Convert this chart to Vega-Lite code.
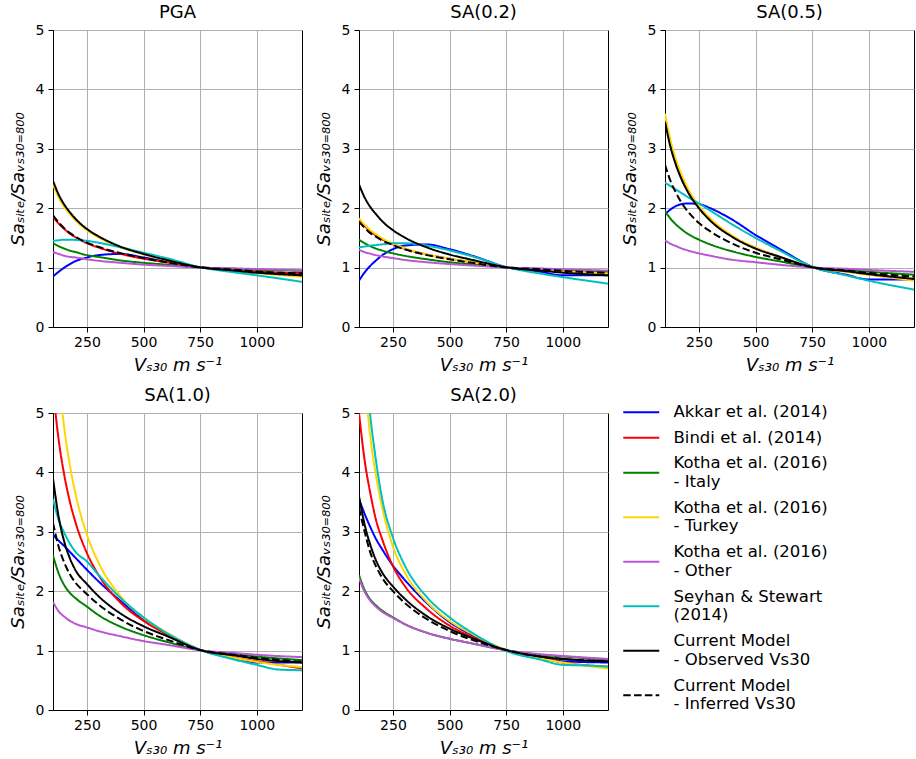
{
"$schema": "https://vega.github.io/schema/vega-lite/v6.json",
"padding": {"left": 8, "top": 3, "right": 0, "bottom": 5},
"datasets": {"gmpe": [
{"p":"PGA","m":"Akkar","v":100,"r":0.85},{"p":"PGA","m":"Akkar","v":125,"r":0.93},{"p":"PGA","m":"Akkar","v":150,"r":1.0},{"p":"PGA","m":"Akkar","v":175,"r":1.06},{"p":"PGA","m":"Akkar","v":200,"r":1.11},{"p":"PGA","m":"Akkar","v":250,"r":1.17},{"p":"PGA","m":"Akkar","v":300,"r":1.21},{"p":"PGA","m":"Akkar","v":400,"r":1.23},{"p":"PGA","m":"Akkar","v":500,"r":1.17},{"p":"PGA","m":"Akkar","v":600,"r":1.10},{"p":"PGA","m":"Akkar","v":760,"r":1.0},{"p":"PGA","m":"Akkar","v":900,"r":0.95},{"p":"PGA","m":"Akkar","v":1000,"r":0.91},{"p":"PGA","m":"Akkar","v":1200,"r":0.91},
{"p":"PGA","m":"Bindi","v":100,"r":1.86},{"p":"PGA","m":"Bindi","v":125,"r":1.74},{"p":"PGA","m":"Bindi","v":150,"r":1.65},{"p":"PGA","m":"Bindi","v":175,"r":1.57},{"p":"PGA","m":"Bindi","v":200,"r":1.51},{"p":"PGA","m":"Bindi","v":250,"r":1.41},{"p":"PGA","m":"Bindi","v":300,"r":1.34},{"p":"PGA","m":"Bindi","v":400,"r":1.23},{"p":"PGA","m":"Bindi","v":500,"r":1.15},{"p":"PGA","m":"Bindi","v":600,"r":1.09},{"p":"PGA","m":"Bindi","v":760,"r":1.0},{"p":"PGA","m":"Bindi","v":900,"r":0.965},{"p":"PGA","m":"Bindi","v":1000,"r":0.935},{"p":"PGA","m":"Bindi","v":1200,"r":0.90},
{"p":"PGA","m":"KothaIT","v":100,"r":1.41},{"p":"PGA","m":"KothaIT","v":125,"r":1.36},{"p":"PGA","m":"KothaIT","v":150,"r":1.32},{"p":"PGA","m":"KothaIT","v":175,"r":1.285},{"p":"PGA","m":"KothaIT","v":200,"r":1.26},{"p":"PGA","m":"KothaIT","v":250,"r":1.21},{"p":"PGA","m":"KothaIT","v":300,"r":1.18},{"p":"PGA","m":"KothaIT","v":400,"r":1.12},{"p":"PGA","m":"KothaIT","v":500,"r":1.08},{"p":"PGA","m":"KothaIT","v":600,"r":1.05},{"p":"PGA","m":"KothaIT","v":760,"r":1.0},{"p":"PGA","m":"KothaIT","v":900,"r":0.98},{"p":"PGA","m":"KothaIT","v":1000,"r":0.965},{"p":"PGA","m":"KothaIT","v":1200,"r":0.945},
{"p":"PGA","m":"KothaTR","v":100,"r":2.40},{"p":"PGA","m":"KothaTR","v":125,"r":2.18},{"p":"PGA","m":"KothaTR","v":150,"r":2.02},{"p":"PGA","m":"KothaTR","v":175,"r":1.90},{"p":"PGA","m":"KothaTR","v":200,"r":1.79},{"p":"PGA","m":"KothaTR","v":250,"r":1.63},{"p":"PGA","m":"KothaTR","v":300,"r":1.51},{"p":"PGA","m":"KothaTR","v":400,"r":1.34},{"p":"PGA","m":"KothaTR","v":500,"r":1.22},{"p":"PGA","m":"KothaTR","v":600,"r":1.13},{"p":"PGA","m":"KothaTR","v":760,"r":1.0},{"p":"PGA","m":"KothaTR","v":900,"r":0.95},{"p":"PGA","m":"KothaTR","v":1000,"r":0.91},{"p":"PGA","m":"KothaTR","v":1200,"r":0.845},
{"p":"PGA","m":"KothaOT","v":100,"r":1.26},{"p":"PGA","m":"KothaOT","v":125,"r":1.23},{"p":"PGA","m":"KothaOT","v":150,"r":1.20},{"p":"PGA","m":"KothaOT","v":175,"r":1.18},{"p":"PGA","m":"KothaOT","v":200,"r":1.17},{"p":"PGA","m":"KothaOT","v":250,"r":1.14},{"p":"PGA","m":"KothaOT","v":300,"r":1.115},{"p":"PGA","m":"KothaOT","v":400,"r":1.08},{"p":"PGA","m":"KothaOT","v":500,"r":1.05},{"p":"PGA","m":"KothaOT","v":600,"r":1.03},{"p":"PGA","m":"KothaOT","v":760,"r":1.0},{"p":"PGA","m":"KothaOT","v":900,"r":0.987},{"p":"PGA","m":"KothaOT","v":1000,"r":0.975},{"p":"PGA","m":"KothaOT","v":1200,"r":0.955},
{"p":"PGA","m":"Seyhan","v":100,"r":1.45},{"p":"PGA","m":"Seyhan","v":125,"r":1.46},{"p":"PGA","m":"Seyhan","v":150,"r":1.47},{"p":"PGA","m":"Seyhan","v":175,"r":1.47},{"p":"PGA","m":"Seyhan","v":200,"r":1.465},{"p":"PGA","m":"Seyhan","v":250,"r":1.45},{"p":"PGA","m":"Seyhan","v":300,"r":1.42},{"p":"PGA","m":"Seyhan","v":400,"r":1.34},{"p":"PGA","m":"Seyhan","v":500,"r":1.25},{"p":"PGA","m":"Seyhan","v":600,"r":1.16},{"p":"PGA","m":"Seyhan","v":760,"r":1.0},{"p":"PGA","m":"Seyhan","v":900,"r":0.92},{"p":"PGA","m":"Seyhan","v":1000,"r":0.87},{"p":"PGA","m":"Seyhan","v":1200,"r":0.76},
{"p":"PGA","m":"CMobs","v":100,"r":2.46},{"p":"PGA","m":"CMobs","v":125,"r":2.23},{"p":"PGA","m":"CMobs","v":150,"r":2.06},{"p":"PGA","m":"CMobs","v":175,"r":1.93},{"p":"PGA","m":"CMobs","v":200,"r":1.82},{"p":"PGA","m":"CMobs","v":250,"r":1.65},{"p":"PGA","m":"CMobs","v":300,"r":1.53},{"p":"PGA","m":"CMobs","v":400,"r":1.35},{"p":"PGA","m":"CMobs","v":500,"r":1.23},{"p":"PGA","m":"CMobs","v":600,"r":1.13},{"p":"PGA","m":"CMobs","v":760,"r":1.0},{"p":"PGA","m":"CMobs","v":900,"r":0.95},{"p":"PGA","m":"CMobs","v":1000,"r":0.915},{"p":"PGA","m":"CMobs","v":1200,"r":0.87},
{"p":"PGA","m":"CMinf","v":100,"r":1.88},{"p":"PGA","m":"CMinf","v":125,"r":1.76},{"p":"PGA","m":"CMinf","v":150,"r":1.66},{"p":"PGA","m":"CMinf","v":175,"r":1.58},{"p":"PGA","m":"CMinf","v":200,"r":1.52},{"p":"PGA","m":"CMinf","v":250,"r":1.42},{"p":"PGA","m":"CMinf","v":300,"r":1.35},{"p":"PGA","m":"CMinf","v":400,"r":1.24},{"p":"PGA","m":"CMinf","v":500,"r":1.16},{"p":"PGA","m":"CMinf","v":600,"r":1.09},{"p":"PGA","m":"CMinf","v":760,"r":1.0},{"p":"PGA","m":"CMinf","v":900,"r":0.965},{"p":"PGA","m":"CMinf","v":1000,"r":0.935},{"p":"PGA","m":"CMinf","v":1200,"r":0.90},

{"p":"SA(0.2)","m":"Akkar","v":100,"r":0.78},{"p":"SA(0.2)","m":"Akkar","v":125,"r":0.92},{"p":"SA(0.2)","m":"Akkar","v":150,"r":1.03},{"p":"SA(0.2)","m":"Akkar","v":175,"r":1.12},{"p":"SA(0.2)","m":"Akkar","v":200,"r":1.20},{"p":"SA(0.2)","m":"Akkar","v":250,"r":1.31},{"p":"SA(0.2)","m":"Akkar","v":300,"r":1.37},{"p":"SA(0.2)","m":"Akkar","v":400,"r":1.39},{"p":"SA(0.2)","m":"Akkar","v":500,"r":1.31},{"p":"SA(0.2)","m":"Akkar","v":600,"r":1.20},{"p":"SA(0.2)","m":"Akkar","v":760,"r":1.0},{"p":"SA(0.2)","m":"Akkar","v":900,"r":0.93},{"p":"SA(0.2)","m":"Akkar","v":1000,"r":0.87},{"p":"SA(0.2)","m":"Akkar","v":1200,"r":0.87},
{"p":"SA(0.2)","m":"Bindi","v":100,"r":1.80},{"p":"SA(0.2)","m":"Bindi","v":125,"r":1.70},{"p":"SA(0.2)","m":"Bindi","v":150,"r":1.61},{"p":"SA(0.2)","m":"Bindi","v":175,"r":1.54},{"p":"SA(0.2)","m":"Bindi","v":200,"r":1.48},{"p":"SA(0.2)","m":"Bindi","v":250,"r":1.39},{"p":"SA(0.2)","m":"Bindi","v":300,"r":1.32},{"p":"SA(0.2)","m":"Bindi","v":400,"r":1.22},{"p":"SA(0.2)","m":"Bindi","v":500,"r":1.15},{"p":"SA(0.2)","m":"Bindi","v":600,"r":1.09},{"p":"SA(0.2)","m":"Bindi","v":760,"r":1.0},{"p":"SA(0.2)","m":"Bindi","v":900,"r":0.965},{"p":"SA(0.2)","m":"Bindi","v":1000,"r":0.94},{"p":"SA(0.2)","m":"Bindi","v":1200,"r":0.90},
{"p":"SA(0.2)","m":"KothaIT","v":100,"r":1.47},{"p":"SA(0.2)","m":"KothaIT","v":125,"r":1.41},{"p":"SA(0.2)","m":"KothaIT","v":150,"r":1.36},{"p":"SA(0.2)","m":"KothaIT","v":175,"r":1.32},{"p":"SA(0.2)","m":"KothaIT","v":200,"r":1.29},{"p":"SA(0.2)","m":"KothaIT","v":250,"r":1.24},{"p":"SA(0.2)","m":"KothaIT","v":300,"r":1.20},{"p":"SA(0.2)","m":"KothaIT","v":400,"r":1.14},{"p":"SA(0.2)","m":"KothaIT","v":500,"r":1.09},{"p":"SA(0.2)","m":"KothaIT","v":600,"r":1.055},{"p":"SA(0.2)","m":"KothaIT","v":760,"r":1.0},{"p":"SA(0.2)","m":"KothaIT","v":900,"r":0.98},{"p":"SA(0.2)","m":"KothaIT","v":1000,"r":0.96},{"p":"SA(0.2)","m":"KothaIT","v":1200,"r":0.93},
{"p":"SA(0.2)","m":"KothaTR","v":100,"r":1.83},{"p":"SA(0.2)","m":"KothaTR","v":125,"r":1.72},{"p":"SA(0.2)","m":"KothaTR","v":150,"r":1.63},{"p":"SA(0.2)","m":"KothaTR","v":175,"r":1.56},{"p":"SA(0.2)","m":"KothaTR","v":200,"r":1.50},{"p":"SA(0.2)","m":"KothaTR","v":250,"r":1.40},{"p":"SA(0.2)","m":"KothaTR","v":300,"r":1.33},{"p":"SA(0.2)","m":"KothaTR","v":400,"r":1.22},{"p":"SA(0.2)","m":"KothaTR","v":500,"r":1.15},{"p":"SA(0.2)","m":"KothaTR","v":600,"r":1.09},{"p":"SA(0.2)","m":"KothaTR","v":760,"r":1.0},{"p":"SA(0.2)","m":"KothaTR","v":900,"r":0.965},{"p":"SA(0.2)","m":"KothaTR","v":1000,"r":0.94},{"p":"SA(0.2)","m":"KothaTR","v":1200,"r":0.90},
{"p":"SA(0.2)","m":"KothaOT","v":100,"r":1.30},{"p":"SA(0.2)","m":"KothaOT","v":125,"r":1.26},{"p":"SA(0.2)","m":"KothaOT","v":150,"r":1.235},{"p":"SA(0.2)","m":"KothaOT","v":175,"r":1.21},{"p":"SA(0.2)","m":"KothaOT","v":200,"r":1.19},{"p":"SA(0.2)","m":"KothaOT","v":250,"r":1.16},{"p":"SA(0.2)","m":"KothaOT","v":300,"r":1.13},{"p":"SA(0.2)","m":"KothaOT","v":400,"r":1.09},{"p":"SA(0.2)","m":"KothaOT","v":500,"r":1.06},{"p":"SA(0.2)","m":"KothaOT","v":600,"r":1.035},{"p":"SA(0.2)","m":"KothaOT","v":760,"r":1.0},{"p":"SA(0.2)","m":"KothaOT","v":900,"r":0.985},{"p":"SA(0.2)","m":"KothaOT","v":1000,"r":0.972},{"p":"SA(0.2)","m":"KothaOT","v":1200,"r":0.95},
{"p":"SA(0.2)","m":"Seyhan","v":100,"r":1.34},{"p":"SA(0.2)","m":"Seyhan","v":125,"r":1.355},{"p":"SA(0.2)","m":"Seyhan","v":150,"r":1.37},{"p":"SA(0.2)","m":"Seyhan","v":175,"r":1.38},{"p":"SA(0.2)","m":"Seyhan","v":200,"r":1.39},{"p":"SA(0.2)","m":"Seyhan","v":250,"r":1.41},{"p":"SA(0.2)","m":"Seyhan","v":300,"r":1.41},{"p":"SA(0.2)","m":"Seyhan","v":400,"r":1.37},{"p":"SA(0.2)","m":"Seyhan","v":500,"r":1.29},{"p":"SA(0.2)","m":"Seyhan","v":600,"r":1.19},{"p":"SA(0.2)","m":"Seyhan","v":760,"r":1.0},{"p":"SA(0.2)","m":"Seyhan","v":900,"r":0.90},{"p":"SA(0.2)","m":"Seyhan","v":1000,"r":0.84},{"p":"SA(0.2)","m":"Seyhan","v":1200,"r":0.73},
{"p":"SA(0.2)","m":"CMobs","v":100,"r":2.40},{"p":"SA(0.2)","m":"CMobs","v":125,"r":2.18},{"p":"SA(0.2)","m":"CMobs","v":150,"r":2.02},{"p":"SA(0.2)","m":"CMobs","v":175,"r":1.90},{"p":"SA(0.2)","m":"CMobs","v":200,"r":1.79},{"p":"SA(0.2)","m":"CMobs","v":250,"r":1.63},{"p":"SA(0.2)","m":"CMobs","v":300,"r":1.51},{"p":"SA(0.2)","m":"CMobs","v":400,"r":1.34},{"p":"SA(0.2)","m":"CMobs","v":500,"r":1.22},{"p":"SA(0.2)","m":"CMobs","v":600,"r":1.13},{"p":"SA(0.2)","m":"CMobs","v":760,"r":1.0},{"p":"SA(0.2)","m":"CMobs","v":900,"r":0.95},{"p":"SA(0.2)","m":"CMobs","v":1000,"r":0.915},{"p":"SA(0.2)","m":"CMobs","v":1200,"r":0.87},
{"p":"SA(0.2)","m":"CMinf","v":100,"r":1.77},{"p":"SA(0.2)","m":"CMinf","v":125,"r":1.67},{"p":"SA(0.2)","m":"CMinf","v":150,"r":1.58},{"p":"SA(0.2)","m":"CMinf","v":175,"r":1.52},{"p":"SA(0.2)","m":"CMinf","v":200,"r":1.46},{"p":"SA(0.2)","m":"CMinf","v":250,"r":1.38},{"p":"SA(0.2)","m":"CMinf","v":300,"r":1.31},{"p":"SA(0.2)","m":"CMinf","v":400,"r":1.21},{"p":"SA(0.2)","m":"CMinf","v":500,"r":1.14},{"p":"SA(0.2)","m":"CMinf","v":600,"r":1.08},{"p":"SA(0.2)","m":"CMinf","v":760,"r":1.0},{"p":"SA(0.2)","m":"CMinf","v":900,"r":0.97},{"p":"SA(0.2)","m":"CMinf","v":1000,"r":0.945},{"p":"SA(0.2)","m":"CMinf","v":1200,"r":0.91},

{"p":"SA(0.5)","m":"Akkar","v":100,"r":1.90},{"p":"SA(0.5)","m":"Akkar","v":125,"r":1.98},{"p":"SA(0.5)","m":"Akkar","v":150,"r":2.04},{"p":"SA(0.5)","m":"Akkar","v":175,"r":2.07},{"p":"SA(0.5)","m":"Akkar","v":200,"r":2.08},{"p":"SA(0.5)","m":"Akkar","v":250,"r":2.07},{"p":"SA(0.5)","m":"Akkar","v":300,"r":2.0},{"p":"SA(0.5)","m":"Akkar","v":400,"r":1.8},{"p":"SA(0.5)","m":"Akkar","v":500,"r":1.55},{"p":"SA(0.5)","m":"Akkar","v":600,"r":1.33},{"p":"SA(0.5)","m":"Akkar","v":760,"r":1.0},{"p":"SA(0.5)","m":"Akkar","v":900,"r":0.88},{"p":"SA(0.5)","m":"Akkar","v":1000,"r":0.80},{"p":"SA(0.5)","m":"Akkar","v":1200,"r":0.80},
{"p":"SA(0.5)","m":"Bindi","v":100,"r":3.52},{"p":"SA(0.5)","m":"Bindi","v":125,"r":3.07},{"p":"SA(0.5)","m":"Bindi","v":150,"r":2.75},{"p":"SA(0.5)","m":"Bindi","v":175,"r":2.51},{"p":"SA(0.5)","m":"Bindi","v":200,"r":2.31},{"p":"SA(0.5)","m":"Bindi","v":250,"r":2.02},{"p":"SA(0.5)","m":"Bindi","v":300,"r":1.81},{"p":"SA(0.5)","m":"Bindi","v":400,"r":1.52},{"p":"SA(0.5)","m":"Bindi","v":500,"r":1.33},{"p":"SA(0.5)","m":"Bindi","v":600,"r":1.19},{"p":"SA(0.5)","m":"Bindi","v":760,"r":1.0},{"p":"SA(0.5)","m":"Bindi","v":900,"r":0.935},{"p":"SA(0.5)","m":"Bindi","v":1000,"r":0.885},{"p":"SA(0.5)","m":"Bindi","v":1200,"r":0.795},
{"p":"SA(0.5)","m":"KothaIT","v":100,"r":1.95},{"p":"SA(0.5)","m":"KothaIT","v":125,"r":1.82},{"p":"SA(0.5)","m":"KothaIT","v":150,"r":1.72},{"p":"SA(0.5)","m":"KothaIT","v":175,"r":1.64},{"p":"SA(0.5)","m":"KothaIT","v":200,"r":1.57},{"p":"SA(0.5)","m":"KothaIT","v":250,"r":1.47},{"p":"SA(0.5)","m":"KothaIT","v":300,"r":1.39},{"p":"SA(0.5)","m":"KothaIT","v":400,"r":1.27},{"p":"SA(0.5)","m":"KothaIT","v":500,"r":1.18},{"p":"SA(0.5)","m":"KothaIT","v":600,"r":1.11},{"p":"SA(0.5)","m":"KothaIT","v":760,"r":1.0},{"p":"SA(0.5)","m":"KothaIT","v":900,"r":0.96},{"p":"SA(0.5)","m":"KothaIT","v":1000,"r":0.93},{"p":"SA(0.5)","m":"KothaIT","v":1200,"r":0.88},
{"p":"SA(0.5)","m":"KothaTR","v":100,"r":3.59},{"p":"SA(0.5)","m":"KothaTR","v":125,"r":3.13},{"p":"SA(0.5)","m":"KothaTR","v":150,"r":2.80},{"p":"SA(0.5)","m":"KothaTR","v":175,"r":2.55},{"p":"SA(0.5)","m":"KothaTR","v":200,"r":2.34},{"p":"SA(0.5)","m":"KothaTR","v":250,"r":2.04},{"p":"SA(0.5)","m":"KothaTR","v":300,"r":1.83},{"p":"SA(0.5)","m":"KothaTR","v":400,"r":1.53},{"p":"SA(0.5)","m":"KothaTR","v":500,"r":1.34},{"p":"SA(0.5)","m":"KothaTR","v":600,"r":1.19},{"p":"SA(0.5)","m":"KothaTR","v":760,"r":1.0},{"p":"SA(0.5)","m":"KothaTR","v":900,"r":0.93},{"p":"SA(0.5)","m":"KothaTR","v":1000,"r":0.88},{"p":"SA(0.5)","m":"KothaTR","v":1200,"r":0.78},
{"p":"SA(0.5)","m":"KothaOT","v":100,"r":1.46},{"p":"SA(0.5)","m":"KothaOT","v":125,"r":1.40},{"p":"SA(0.5)","m":"KothaOT","v":150,"r":1.36},{"p":"SA(0.5)","m":"KothaOT","v":175,"r":1.32},{"p":"SA(0.5)","m":"KothaOT","v":200,"r":1.29},{"p":"SA(0.5)","m":"KothaOT","v":250,"r":1.24},{"p":"SA(0.5)","m":"KothaOT","v":300,"r":1.20},{"p":"SA(0.5)","m":"KothaOT","v":400,"r":1.13},{"p":"SA(0.5)","m":"KothaOT","v":500,"r":1.09},{"p":"SA(0.5)","m":"KothaOT","v":600,"r":1.05},{"p":"SA(0.5)","m":"KothaOT","v":760,"r":1.0},{"p":"SA(0.5)","m":"KothaOT","v":900,"r":0.98},{"p":"SA(0.5)","m":"KothaOT","v":1000,"r":0.96},{"p":"SA(0.5)","m":"KothaOT","v":1200,"r":0.93},
{"p":"SA(0.5)","m":"Seyhan","v":100,"r":2.43},{"p":"SA(0.5)","m":"Seyhan","v":125,"r":2.37},{"p":"SA(0.5)","m":"Seyhan","v":150,"r":2.31},{"p":"SA(0.5)","m":"Seyhan","v":175,"r":2.25},{"p":"SA(0.5)","m":"Seyhan","v":200,"r":2.19},{"p":"SA(0.5)","m":"Seyhan","v":250,"r":2.08},{"p":"SA(0.5)","m":"Seyhan","v":300,"r":1.96},{"p":"SA(0.5)","m":"Seyhan","v":400,"r":1.72},{"p":"SA(0.5)","m":"Seyhan","v":500,"r":1.50},{"p":"SA(0.5)","m":"Seyhan","v":600,"r":1.30},{"p":"SA(0.5)","m":"Seyhan","v":760,"r":1.0},{"p":"SA(0.5)","m":"Seyhan","v":900,"r":0.87},{"p":"SA(0.5)","m":"Seyhan","v":1000,"r":0.78},{"p":"SA(0.5)","m":"Seyhan","v":1200,"r":0.63},
{"p":"SA(0.5)","m":"CMobs","v":100,"r":3.45},{"p":"SA(0.5)","m":"CMobs","v":125,"r":3.02},{"p":"SA(0.5)","m":"CMobs","v":150,"r":2.71},{"p":"SA(0.5)","m":"CMobs","v":175,"r":2.47},{"p":"SA(0.5)","m":"CMobs","v":200,"r":2.28},{"p":"SA(0.5)","m":"CMobs","v":250,"r":2.0},{"p":"SA(0.5)","m":"CMobs","v":300,"r":1.79},{"p":"SA(0.5)","m":"CMobs","v":400,"r":1.51},{"p":"SA(0.5)","m":"CMobs","v":500,"r":1.32},{"p":"SA(0.5)","m":"CMobs","v":600,"r":1.19},{"p":"SA(0.5)","m":"CMobs","v":760,"r":1.0},{"p":"SA(0.5)","m":"CMobs","v":900,"r":0.94},{"p":"SA(0.5)","m":"CMobs","v":1000,"r":0.89},{"p":"SA(0.5)","m":"CMobs","v":1200,"r":0.81},
{"p":"SA(0.5)","m":"CMinf","v":100,"r":2.73},{"p":"SA(0.5)","m":"CMinf","v":125,"r":2.45},{"p":"SA(0.5)","m":"CMinf","v":150,"r":2.25},{"p":"SA(0.5)","m":"CMinf","v":175,"r":2.08},{"p":"SA(0.5)","m":"CMinf","v":200,"r":1.95},{"p":"SA(0.5)","m":"CMinf","v":250,"r":1.75},{"p":"SA(0.5)","m":"CMinf","v":300,"r":1.61},{"p":"SA(0.5)","m":"CMinf","v":400,"r":1.40},{"p":"SA(0.5)","m":"CMinf","v":500,"r":1.25},{"p":"SA(0.5)","m":"CMinf","v":600,"r":1.15},{"p":"SA(0.5)","m":"CMinf","v":760,"r":1.0},{"p":"SA(0.5)","m":"CMinf","v":900,"r":0.95},{"p":"SA(0.5)","m":"CMinf","v":1000,"r":0.91},{"p":"SA(0.5)","m":"CMinf","v":1200,"r":0.85},

{"p":"SA(1.0)","m":"Akkar","v":100,"r":2.95},{"p":"SA(1.0)","m":"Akkar","v":125,"r":2.85},{"p":"SA(1.0)","m":"Akkar","v":150,"r":2.76},{"p":"SA(1.0)","m":"Akkar","v":175,"r":2.66},{"p":"SA(1.0)","m":"Akkar","v":200,"r":2.56},{"p":"SA(1.0)","m":"Akkar","v":250,"r":2.36},{"p":"SA(1.0)","m":"Akkar","v":300,"r":2.17},{"p":"SA(1.0)","m":"Akkar","v":400,"r":1.83},{"p":"SA(1.0)","m":"Akkar","v":500,"r":1.52},{"p":"SA(1.0)","m":"Akkar","v":600,"r":1.30},{"p":"SA(1.0)","m":"Akkar","v":760,"r":1.0},{"p":"SA(1.0)","m":"Akkar","v":900,"r":0.88},{"p":"SA(1.0)","m":"Akkar","v":1000,"r":0.80},{"p":"SA(1.0)","m":"Akkar","v":1200,"r":0.80},
{"p":"SA(1.0)","m":"Bindi","v":100,"r":5.4},{"p":"SA(1.0)","m":"Bindi","v":125,"r":4.55},{"p":"SA(1.0)","m":"Bindi","v":150,"r":3.95},{"p":"SA(1.0)","m":"Bindi","v":175,"r":3.5},{"p":"SA(1.0)","m":"Bindi","v":200,"r":3.15},{"p":"SA(1.0)","m":"Bindi","v":250,"r":2.64},{"p":"SA(1.0)","m":"Bindi","v":300,"r":2.28},{"p":"SA(1.0)","m":"Bindi","v":400,"r":1.80},{"p":"SA(1.0)","m":"Bindi","v":500,"r":1.50},{"p":"SA(1.0)","m":"Bindi","v":600,"r":1.28},{"p":"SA(1.0)","m":"Bindi","v":760,"r":1.0},{"p":"SA(1.0)","m":"Bindi","v":900,"r":0.88},{"p":"SA(1.0)","m":"Bindi","v":1000,"r":0.82},{"p":"SA(1.0)","m":"Bindi","v":1200,"r":0.70},
{"p":"SA(1.0)","m":"KothaIT","v":100,"r":2.6},{"p":"SA(1.0)","m":"KothaIT","v":125,"r":2.3},{"p":"SA(1.0)","m":"KothaIT","v":150,"r":2.1},{"p":"SA(1.0)","m":"KothaIT","v":175,"r":1.97},{"p":"SA(1.0)","m":"KothaIT","v":200,"r":1.88},{"p":"SA(1.0)","m":"KothaIT","v":250,"r":1.74},{"p":"SA(1.0)","m":"KothaIT","v":300,"r":1.6},{"p":"SA(1.0)","m":"KothaIT","v":400,"r":1.4},{"p":"SA(1.0)","m":"KothaIT","v":500,"r":1.26},{"p":"SA(1.0)","m":"KothaIT","v":600,"r":1.15},{"p":"SA(1.0)","m":"KothaIT","v":760,"r":1.0},{"p":"SA(1.0)","m":"KothaIT","v":900,"r":0.94},{"p":"SA(1.0)","m":"KothaIT","v":1000,"r":0.9},{"p":"SA(1.0)","m":"KothaIT","v":1200,"r":0.84},
{"p":"SA(1.0)","m":"KothaTR","v":100,"r":6.9},{"p":"SA(1.0)","m":"KothaTR","v":125,"r":5.62},{"p":"SA(1.0)","m":"KothaTR","v":150,"r":4.74},{"p":"SA(1.0)","m":"KothaTR","v":175,"r":4.11},{"p":"SA(1.0)","m":"KothaTR","v":200,"r":3.63},{"p":"SA(1.0)","m":"KothaTR","v":250,"r":2.95},{"p":"SA(1.0)","m":"KothaTR","v":300,"r":2.49},{"p":"SA(1.0)","m":"KothaTR","v":400,"r":1.91},{"p":"SA(1.0)","m":"KothaTR","v":500,"r":1.55},{"p":"SA(1.0)","m":"KothaTR","v":600,"r":1.31},{"p":"SA(1.0)","m":"KothaTR","v":760,"r":1.0},{"p":"SA(1.0)","m":"KothaTR","v":900,"r":0.88},{"p":"SA(1.0)","m":"KothaTR","v":1000,"r":0.81},{"p":"SA(1.0)","m":"KothaTR","v":1200,"r":0.72},
{"p":"SA(1.0)","m":"KothaOT","v":100,"r":1.82},{"p":"SA(1.0)","m":"KothaOT","v":125,"r":1.66},{"p":"SA(1.0)","m":"KothaOT","v":150,"r":1.57},{"p":"SA(1.0)","m":"KothaOT","v":175,"r":1.5},{"p":"SA(1.0)","m":"KothaOT","v":200,"r":1.45},{"p":"SA(1.0)","m":"KothaOT","v":250,"r":1.39},{"p":"SA(1.0)","m":"KothaOT","v":300,"r":1.33},{"p":"SA(1.0)","m":"KothaOT","v":400,"r":1.24},{"p":"SA(1.0)","m":"KothaOT","v":500,"r":1.16},{"p":"SA(1.0)","m":"KothaOT","v":600,"r":1.1},{"p":"SA(1.0)","m":"KothaOT","v":760,"r":1.0},{"p":"SA(1.0)","m":"KothaOT","v":900,"r":0.96},{"p":"SA(1.0)","m":"KothaOT","v":1000,"r":0.93},{"p":"SA(1.0)","m":"KothaOT","v":1200,"r":0.89},
{"p":"SA(1.0)","m":"Seyhan","v":100,"r":3.55},{"p":"SA(1.0)","m":"Seyhan","v":125,"r":3.2},{"p":"SA(1.0)","m":"Seyhan","v":150,"r":2.98},{"p":"SA(1.0)","m":"Seyhan","v":175,"r":2.8},{"p":"SA(1.0)","m":"Seyhan","v":200,"r":2.66},{"p":"SA(1.0)","m":"Seyhan","v":250,"r":2.5},{"p":"SA(1.0)","m":"Seyhan","v":300,"r":2.28},{"p":"SA(1.0)","m":"Seyhan","v":400,"r":1.88},{"p":"SA(1.0)","m":"Seyhan","v":500,"r":1.56},{"p":"SA(1.0)","m":"Seyhan","v":600,"r":1.3},{"p":"SA(1.0)","m":"Seyhan","v":760,"r":1.0},{"p":"SA(1.0)","m":"Seyhan","v":900,"r":0.85},{"p":"SA(1.0)","m":"Seyhan","v":1000,"r":0.76},{"p":"SA(1.0)","m":"Seyhan","v":1100,"r":0.68},{"p":"SA(1.0)","m":"Seyhan","v":1200,"r":0.67},
{"p":"SA(1.0)","m":"CMobs","v":100,"r":3.9},{"p":"SA(1.0)","m":"CMobs","v":125,"r":3.25},{"p":"SA(1.0)","m":"CMobs","v":150,"r":2.83},{"p":"SA(1.0)","m":"CMobs","v":175,"r":2.55},{"p":"SA(1.0)","m":"CMobs","v":200,"r":2.35},{"p":"SA(1.0)","m":"CMobs","v":250,"r":2.12},{"p":"SA(1.0)","m":"CMobs","v":300,"r":1.92},{"p":"SA(1.0)","m":"CMobs","v":400,"r":1.62},{"p":"SA(1.0)","m":"CMobs","v":500,"r":1.41},{"p":"SA(1.0)","m":"CMobs","v":600,"r":1.25},{"p":"SA(1.0)","m":"CMobs","v":760,"r":1.0},{"p":"SA(1.0)","m":"CMobs","v":900,"r":0.92},{"p":"SA(1.0)","m":"CMobs","v":1000,"r":0.86},{"p":"SA(1.0)","m":"CMobs","v":1200,"r":0.8},
{"p":"SA(1.0)","m":"CMinf","v":100,"r":3.15},{"p":"SA(1.0)","m":"CMinf","v":125,"r":2.75},{"p":"SA(1.0)","m":"CMinf","v":150,"r":2.48},{"p":"SA(1.0)","m":"CMinf","v":175,"r":2.28},{"p":"SA(1.0)","m":"CMinf","v":200,"r":2.14},{"p":"SA(1.0)","m":"CMinf","v":250,"r":1.95},{"p":"SA(1.0)","m":"CMinf","v":300,"r":1.78},{"p":"SA(1.0)","m":"CMinf","v":400,"r":1.52},{"p":"SA(1.0)","m":"CMinf","v":500,"r":1.33},{"p":"SA(1.0)","m":"CMinf","v":600,"r":1.19},{"p":"SA(1.0)","m":"CMinf","v":760,"r":1.0},{"p":"SA(1.0)","m":"CMinf","v":900,"r":0.93},{"p":"SA(1.0)","m":"CMinf","v":1000,"r":0.88},{"p":"SA(1.0)","m":"CMinf","v":1200,"r":0.81},

{"p":"SA(2.0)","m":"Akkar","v":100,"r":3.55},{"p":"SA(2.0)","m":"Akkar","v":125,"r":3.3},{"p":"SA(2.0)","m":"Akkar","v":150,"r":3.08},{"p":"SA(2.0)","m":"Akkar","v":175,"r":2.88},{"p":"SA(2.0)","m":"Akkar","v":200,"r":2.72},{"p":"SA(2.0)","m":"Akkar","v":250,"r":2.43},{"p":"SA(2.0)","m":"Akkar","v":300,"r":2.2},{"p":"SA(2.0)","m":"Akkar","v":400,"r":1.8},{"p":"SA(2.0)","m":"Akkar","v":500,"r":1.48},{"p":"SA(2.0)","m":"Akkar","v":600,"r":1.26},{"p":"SA(2.0)","m":"Akkar","v":760,"r":1.0},{"p":"SA(2.0)","m":"Akkar","v":900,"r":0.9},{"p":"SA(2.0)","m":"Akkar","v":1000,"r":0.82},{"p":"SA(2.0)","m":"Akkar","v":1200,"r":0.8},
{"p":"SA(2.0)","m":"Bindi","v":100,"r":5.0},{"p":"SA(2.0)","m":"Bindi","v":125,"r":4.2},{"p":"SA(2.0)","m":"Bindi","v":150,"r":3.65},{"p":"SA(2.0)","m":"Bindi","v":175,"r":3.2},{"p":"SA(2.0)","m":"Bindi","v":200,"r":2.9},{"p":"SA(2.0)","m":"Bindi","v":250,"r":2.42},{"p":"SA(2.0)","m":"Bindi","v":300,"r":2.1},{"p":"SA(2.0)","m":"Bindi","v":400,"r":1.7},{"p":"SA(2.0)","m":"Bindi","v":500,"r":1.42},{"p":"SA(2.0)","m":"Bindi","v":600,"r":1.23},{"p":"SA(2.0)","m":"Bindi","v":760,"r":1.0},{"p":"SA(2.0)","m":"Bindi","v":900,"r":0.88},{"p":"SA(2.0)","m":"Bindi","v":1000,"r":0.8},{"p":"SA(2.0)","m":"Bindi","v":1200,"r":0.73},
{"p":"SA(2.0)","m":"KothaIT","v":100,"r":2.27},{"p":"SA(2.0)","m":"KothaIT","v":125,"r":2.02},{"p":"SA(2.0)","m":"KothaIT","v":150,"r":1.86},{"p":"SA(2.0)","m":"KothaIT","v":175,"r":1.76},{"p":"SA(2.0)","m":"KothaIT","v":200,"r":1.68},{"p":"SA(2.0)","m":"KothaIT","v":250,"r":1.56},{"p":"SA(2.0)","m":"KothaIT","v":300,"r":1.45},{"p":"SA(2.0)","m":"KothaIT","v":400,"r":1.3},{"p":"SA(2.0)","m":"KothaIT","v":500,"r":1.2},{"p":"SA(2.0)","m":"KothaIT","v":600,"r":1.12},{"p":"SA(2.0)","m":"KothaIT","v":760,"r":1.0},{"p":"SA(2.0)","m":"KothaIT","v":900,"r":0.93},{"p":"SA(2.0)","m":"KothaIT","v":1000,"r":0.9},{"p":"SA(2.0)","m":"KothaIT","v":1200,"r":0.85},
{"p":"SA(2.0)","m":"KothaTR","v":100,"r":6.8},{"p":"SA(2.0)","m":"KothaTR","v":125,"r":5.6},{"p":"SA(2.0)","m":"KothaTR","v":150,"r":4.6},{"p":"SA(2.0)","m":"KothaTR","v":175,"r":3.95},{"p":"SA(2.0)","m":"KothaTR","v":200,"r":3.45},{"p":"SA(2.0)","m":"KothaTR","v":250,"r":2.75},{"p":"SA(2.0)","m":"KothaTR","v":300,"r":2.33},{"p":"SA(2.0)","m":"KothaTR","v":400,"r":1.82},{"p":"SA(2.0)","m":"KothaTR","v":500,"r":1.5},{"p":"SA(2.0)","m":"KothaTR","v":600,"r":1.28},{"p":"SA(2.0)","m":"KothaTR","v":760,"r":1.0},{"p":"SA(2.0)","m":"KothaTR","v":900,"r":0.87},{"p":"SA(2.0)","m":"KothaTR","v":1000,"r":0.8},{"p":"SA(2.0)","m":"KothaTR","v":1200,"r":0.7},
{"p":"SA(2.0)","m":"KothaOT","v":100,"r":2.22},{"p":"SA(2.0)","m":"KothaOT","v":125,"r":1.99},{"p":"SA(2.0)","m":"KothaOT","v":150,"r":1.84},{"p":"SA(2.0)","m":"KothaOT","v":175,"r":1.74},{"p":"SA(2.0)","m":"KothaOT","v":200,"r":1.66},{"p":"SA(2.0)","m":"KothaOT","v":250,"r":1.55},{"p":"SA(2.0)","m":"KothaOT","v":300,"r":1.45},{"p":"SA(2.0)","m":"KothaOT","v":400,"r":1.3},{"p":"SA(2.0)","m":"KothaOT","v":500,"r":1.2},{"p":"SA(2.0)","m":"KothaOT","v":600,"r":1.12},{"p":"SA(2.0)","m":"KothaOT","v":760,"r":1.0},{"p":"SA(2.0)","m":"KothaOT","v":900,"r":0.94},{"p":"SA(2.0)","m":"KothaOT","v":1000,"r":0.91},{"p":"SA(2.0)","m":"KothaOT","v":1200,"r":0.86},
{"p":"SA(2.0)","m":"Seyhan","v":100,"r":7.5},{"p":"SA(2.0)","m":"Seyhan","v":125,"r":6.0},{"p":"SA(2.0)","m":"Seyhan","v":150,"r":4.95},{"p":"SA(2.0)","m":"Seyhan","v":175,"r":4.2},{"p":"SA(2.0)","m":"Seyhan","v":200,"r":3.6},{"p":"SA(2.0)","m":"Seyhan","v":250,"r":2.9},{"p":"SA(2.0)","m":"Seyhan","v":300,"r":2.45},{"p":"SA(2.0)","m":"Seyhan","v":400,"r":1.9},{"p":"SA(2.0)","m":"Seyhan","v":500,"r":1.56},{"p":"SA(2.0)","m":"Seyhan","v":600,"r":1.3},{"p":"SA(2.0)","m":"Seyhan","v":760,"r":0.98},{"p":"SA(2.0)","m":"Seyhan","v":900,"r":0.85},{"p":"SA(2.0)","m":"Seyhan","v":1000,"r":0.76},{"p":"SA(2.0)","m":"Seyhan","v":1100,"r":0.75},{"p":"SA(2.0)","m":"Seyhan","v":1200,"r":0.73},
{"p":"SA(2.0)","m":"CMobs","v":100,"r":3.6},{"p":"SA(2.0)","m":"CMobs","v":125,"r":3.12},{"p":"SA(2.0)","m":"CMobs","v":150,"r":2.78},{"p":"SA(2.0)","m":"CMobs","v":175,"r":2.52},{"p":"SA(2.0)","m":"CMobs","v":200,"r":2.33},{"p":"SA(2.0)","m":"CMobs","v":250,"r":2.08},{"p":"SA(2.0)","m":"CMobs","v":300,"r":1.88},{"p":"SA(2.0)","m":"CMobs","v":400,"r":1.58},{"p":"SA(2.0)","m":"CMobs","v":500,"r":1.37},{"p":"SA(2.0)","m":"CMobs","v":600,"r":1.21},{"p":"SA(2.0)","m":"CMobs","v":760,"r":1.0},{"p":"SA(2.0)","m":"CMobs","v":900,"r":0.9},{"p":"SA(2.0)","m":"CMobs","v":1000,"r":0.86},{"p":"SA(2.0)","m":"CMobs","v":1200,"r":0.82},
{"p":"SA(2.0)","m":"CMinf","v":100,"r":3.4},{"p":"SA(2.0)","m":"CMinf","v":125,"r":3.0},{"p":"SA(2.0)","m":"CMinf","v":150,"r":2.65},{"p":"SA(2.0)","m":"CMinf","v":175,"r":2.42},{"p":"SA(2.0)","m":"CMinf","v":200,"r":2.24},{"p":"SA(2.0)","m":"CMinf","v":250,"r":2.0},{"p":"SA(2.0)","m":"CMinf","v":300,"r":1.81},{"p":"SA(2.0)","m":"CMinf","v":400,"r":1.53},{"p":"SA(2.0)","m":"CMinf","v":500,"r":1.33},{"p":"SA(2.0)","m":"CMinf","v":600,"r":1.18},{"p":"SA(2.0)","m":"CMinf","v":760,"r":1.0},{"p":"SA(2.0)","m":"CMinf","v":900,"r":0.9},{"p":"SA(2.0)","m":"CMinf","v":1000,"r":0.86},{"p":"SA(2.0)","m":"CMinf","v":1200,"r":0.82}
]},
"config": {
  "font": "DejaVu Sans",
  "view": {"stroke": "black", "strokeWidth": 1},
  "title": {"font": "DejaVu Sans", "fontSize": 18, "fontWeight": "normal", "color": "black", "offset": 1},
  "axis": {"labelFont": "DejaVu Sans", "labelFontSize": 14, "labelColor": "black", "titleFont": "DejaVu Sans", "titleFontSize": 18, "titleFontWeight": "normal", "titleFontStyle": "italic", "titleColor": "black", "domainColor": "black", "tickColor": "black", "tickSize": 5, "gridColor": "#b0b0b0", "gridWidth": 1, "gridOpacity": 1, "labelPadding": 3, "format": "d"},
  "axisY": {"titlePadding": 8, "labelPadding": 4},
  "axisX": {"titlePadding": 7},
  "legend": {"orient": "none", "legendX": 580, "legendY": 374, "title": null, "padding": 0, "symbolType": "M-3.6,0H3.6", "symbolSize": 100, "symbolStrokeWidth": 2, "labelFont": "DejaVu Sans", "labelFontSize": 16.5, "labelColor": "black", "labelOffset": 24, "rowPadding": 8.5, "labelLimit": 400}
},
"columns": 3,
"spacing": {"row": 86, "column": 57},
"bounds": "flush",
"resolve": {"legend": {"color": "independent", "strokeDash": "independent", "shape": "independent"}},
"concat": [
{"title": "PGA", "width": 249, "height": 297, "data": {"name": "gmpe"}, "transform": [{"filter": "datum.p == 'PGA'"}],
 "resolve": {"legend": {"color": "independent", "strokeDash": "independent", "shape": "independent"}},
 "layer": [
 {"mark": {"type": "line", "clip": true, "strokeWidth": 2, "interpolate": "monotone"},
  "encoding": {
   "x": {"field": "v", "type": "quantitative", "scale": {"domain": [100, 1200], "nice": false, "zero": false}, "axis": {"values": [250, 500, 750, 1000], "title": "Vₛ₃₀ m s⁻¹"}},
   "y": {"field": "r", "type": "quantitative", "scale": {"domain": [0, 5], "nice": false}, "axis": {"values": [0, 1, 2, 3, 4, 5], "title": "Saₛᵢₜₑ/Saᵥₛ₃₀₌₈₀₀"}},
   "color": {"field": "m", "type": "nominal", "scale": {"domain": ["Akkar","Bindi","KothaIT","KothaTR","KothaOT","Seyhan","CMobs","CMinf"], "range": ["#0000ff","#ff0000","#008000","#ffd700","#ba55d3","#00bfbf","#000000","#000000"]}, "legend": null},
   "strokeDash": {"field": "m", "type": "nominal", "scale": {"domain": ["Akkar","Bindi","KothaIT","KothaTR","KothaOT","Seyhan","CMobs","CMinf"], "range": [[1,0],[1,0],[1,0],[1,0],[1,0],[1,0],[1,0],[7.5,3.3]]}, "legend": null}
  }},
 {"transform": [{"filter": "false"}],
  "mark": {"type": "point", "filled": false, "opacity": 1, "strokeWidth": 2, "size": 100},
  "encoding": {
   "x": {"field": "v", "type": "quantitative"},
   "y": {"field": "r", "type": "quantitative"},
   "color": {"field": "m", "type": "nominal", "legend": {"labelExpr": "datum.label == 'Akkar' ? 'Akkar et al. (2014)' : datum.label == 'Bindi' ? 'Bindi et al. (2014)' : datum.label == 'KothaIT' ? ['Kotha et al. (2016)', '\u00a0- Italy'] : datum.label == 'KothaTR' ? ['Kotha et al. (2016)', '\u00a0- Turkey'] : datum.label == 'KothaOT' ? ['Kotha et al. (2016)', '\u00a0- Other'] : datum.label == 'Seyhan' ? ['Seyhan & Stewart', '(2014)'] : datum.label == 'CMobs' ? ['Current Model', '\u00a0- Observed Vs30'] : ['Current Model', '\u00a0- Inferred Vs30']"}},
   "strokeDash": {"field": "m", "type": "nominal", "legend": {"labelExpr": "datum.label == 'Akkar' ? 'Akkar et al. (2014)' : datum.label == 'Bindi' ? 'Bindi et al. (2014)' : datum.label == 'KothaIT' ? ['Kotha et al. (2016)', '\u00a0- Italy'] : datum.label == 'KothaTR' ? ['Kotha et al. (2016)', '\u00a0- Turkey'] : datum.label == 'KothaOT' ? ['Kotha et al. (2016)', '\u00a0- Other'] : datum.label == 'Seyhan' ? ['Seyhan & Stewart', '(2014)'] : datum.label == 'CMobs' ? ['Current Model', '\u00a0- Observed Vs30'] : ['Current Model', '\u00a0- Inferred Vs30']"}},
   "shape": {"field": "m", "type": "nominal", "scale": {"domain": ["Akkar","Bindi","KothaIT","KothaTR","KothaOT","Seyhan","CMobs","CMinf"], "range": ["M-3.6,0H3.6","M-3.6,0H3.6","M-3.6,1.9H3.6","M-3.6,1.9H3.6","M-3.6,1.9H3.6","M-3.6,1.9H3.6","M-3.6,1.9H3.6","M-3.6,1.9H3.6"]},
    "legend": {"labelExpr": "datum.label == 'Akkar' ? 'Akkar et al. (2014)' : datum.label == 'Bindi' ? 'Bindi et al. (2014)' : datum.label == 'KothaIT' ? ['Kotha et al. (2016)', '\u00a0- Italy'] : datum.label == 'KothaTR' ? ['Kotha et al. (2016)', '\u00a0- Turkey'] : datum.label == 'KothaOT' ? ['Kotha et al. (2016)', '\u00a0- Other'] : datum.label == 'Seyhan' ? ['Seyhan & Stewart', '(2014)'] : datum.label == 'CMobs' ? ['Current Model', '\u00a0- Observed Vs30'] : ['Current Model', '\u00a0- Inferred Vs30']"}}
  }}
 ]},
{"title": "SA(0.2)", "width": 249, "height": 297, "data": {"name": "gmpe"}, "transform": [{"filter": "datum.p == 'SA(0.2)'"}],
 "mark": {"type": "line", "clip": true, "strokeWidth": 2, "interpolate": "monotone"},
 "encoding": {
  "x": {"field": "v", "type": "quantitative", "scale": {"domain": [100, 1200], "nice": false, "zero": false}, "axis": {"values": [250, 500, 750, 1000], "title": "Vₛ₃₀ m s⁻¹"}},
  "y": {"field": "r", "type": "quantitative", "scale": {"domain": [0, 5], "nice": false}, "axis": {"values": [0, 1, 2, 3, 4, 5], "title": "Saₛᵢₜₑ/Saᵥₛ₃₀₌₈₀₀"}},
  "color": {"field": "m", "type": "nominal", "scale": {"domain": ["Akkar","Bindi","KothaIT","KothaTR","KothaOT","Seyhan","CMobs","CMinf"], "range": ["#0000ff","#ff0000","#008000","#ffd700","#ba55d3","#00bfbf","#000000","#000000"]}, "legend": null},
  "strokeDash": {"field": "m", "type": "nominal", "scale": {"domain": ["Akkar","Bindi","KothaIT","KothaTR","KothaOT","Seyhan","CMobs","CMinf"], "range": [[1,0],[1,0],[1,0],[1,0],[1,0],[1,0],[1,0],[7.5,3.3]]}, "legend": null}
 }},
{"title": "SA(0.5)", "width": 249, "height": 297, "data": {"name": "gmpe"}, "transform": [{"filter": "datum.p == 'SA(0.5)'"}],
 "mark": {"type": "line", "clip": true, "strokeWidth": 2, "interpolate": "monotone"},
 "encoding": {
  "x": {"field": "v", "type": "quantitative", "scale": {"domain": [100, 1200], "nice": false, "zero": false}, "axis": {"values": [250, 500, 750, 1000], "title": "Vₛ₃₀ m s⁻¹"}},
  "y": {"field": "r", "type": "quantitative", "scale": {"domain": [0, 5], "nice": false}, "axis": {"values": [0, 1, 2, 3, 4, 5], "title": "Saₛᵢₜₑ/Saᵥₛ₃₀₌₈₀₀"}},
  "color": {"field": "m", "type": "nominal", "scale": {"domain": ["Akkar","Bindi","KothaIT","KothaTR","KothaOT","Seyhan","CMobs","CMinf"], "range": ["#0000ff","#ff0000","#008000","#ffd700","#ba55d3","#00bfbf","#000000","#000000"]}, "legend": null},
  "strokeDash": {"field": "m", "type": "nominal", "scale": {"domain": ["Akkar","Bindi","KothaIT","KothaTR","KothaOT","Seyhan","CMobs","CMinf"], "range": [[1,0],[1,0],[1,0],[1,0],[1,0],[1,0],[1,0],[7.5,3.3]]}, "legend": null}
 }},
{"title": "SA(1.0)", "width": 249, "height": 297, "data": {"name": "gmpe"}, "transform": [{"filter": "datum.p == 'SA(1.0)'"}],
 "mark": {"type": "line", "clip": true, "strokeWidth": 2, "interpolate": "monotone"},
 "encoding": {
  "x": {"field": "v", "type": "quantitative", "scale": {"domain": [100, 1200], "nice": false, "zero": false}, "axis": {"values": [250, 500, 750, 1000], "title": "Vₛ₃₀ m s⁻¹"}},
  "y": {"field": "r", "type": "quantitative", "scale": {"domain": [0, 5], "nice": false}, "axis": {"values": [0, 1, 2, 3, 4, 5], "title": "Saₛᵢₜₑ/Saᵥₛ₃₀₌₈₀₀"}},
  "color": {"field": "m", "type": "nominal", "scale": {"domain": ["Akkar","Bindi","KothaIT","KothaTR","KothaOT","Seyhan","CMobs","CMinf"], "range": ["#0000ff","#ff0000","#008000","#ffd700","#ba55d3","#00bfbf","#000000","#000000"]}, "legend": null},
  "strokeDash": {"field": "m", "type": "nominal", "scale": {"domain": ["Akkar","Bindi","KothaIT","KothaTR","KothaOT","Seyhan","CMobs","CMinf"], "range": [[1,0],[1,0],[1,0],[1,0],[1,0],[1,0],[1,0],[7.5,3.3]]}, "legend": null}
 }},
{"title": "SA(2.0)", "width": 249, "height": 297, "data": {"name": "gmpe"}, "transform": [{"filter": "datum.p == 'SA(2.0)'"}],
 "mark": {"type": "line", "clip": true, "strokeWidth": 2, "interpolate": "monotone"},
 "encoding": {
  "x": {"field": "v", "type": "quantitative", "scale": {"domain": [100, 1200], "nice": false, "zero": false}, "axis": {"values": [250, 500, 750, 1000], "title": "Vₛ₃₀ m s⁻¹"}},
  "y": {"field": "r", "type": "quantitative", "scale": {"domain": [0, 5], "nice": false}, "axis": {"values": [0, 1, 2, 3, 4, 5], "title": "Saₛᵢₜₑ/Saᵥₛ₃₀₌₈₀₀"}},
  "color": {"field": "m", "type": "nominal", "scale": {"domain": ["Akkar","Bindi","KothaIT","KothaTR","KothaOT","Seyhan","CMobs","CMinf"], "range": ["#0000ff","#ff0000","#008000","#ffd700","#ba55d3","#00bfbf","#000000","#000000"]}, "legend": null},
  "strokeDash": {"field": "m", "type": "nominal", "scale": {"domain": ["Akkar","Bindi","KothaIT","KothaTR","KothaOT","Seyhan","CMobs","CMinf"], "range": [[1,0],[1,0],[1,0],[1,0],[1,0],[1,0],[1,0],[7.5,3.3]]}, "legend": null}
 }}
]
}
